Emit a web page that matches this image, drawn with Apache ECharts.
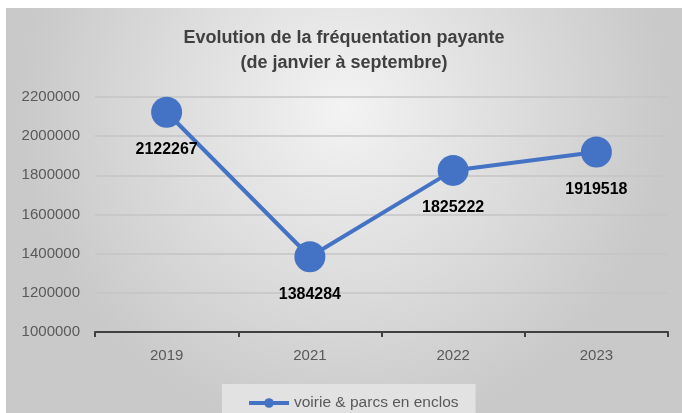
<!DOCTYPE html>
<html>
<head>
<meta charset="utf-8">
<script src="https://cdn.jsdelivr.net/npm/echarts@6/dist/echarts.min.js"></script>
<style>
  html, body { margin: 0; padding: 0; background: #fff; }
  #chart { position: absolute; left: 6px; top: 8px; width: 676px; height: 405px; }
</style>
</head>
<body>
<div id="chart"></div>
<script>
// données
const annees = ['2019', '2021', '2022', '2023']
const frequentation = [2122267, 1384284, 1825222, 1919518]
const nomSerie = 'voirie & parcs en enclos'

const chart = echarts.init(document.getElementById('chart'))

chart.setOption({
  backgroundColor: new echarts.graphic.RadialGradient(0.5, 0.25, 0.8, [
    { offset: 0, color: '#f3f3f3' },
    { offset: 1, color: '#c9c9c9' }
  ]),
  textStyle: { fontFamily: 'Liberation Sans' },
  title: {
    text: 'Evolution de la fréquentation payante\n(de janvier à septembre)',
    left: 'center',
    top: 13,
    textStyle: {
      fontSize: 18,
      fontWeight: 'bold',
      color: '#404040',
      lineHeight: 25
    }
  },
  legend: {
    data: [nomSerie],
    left: 216,
    top: 376,
    backgroundColor: '#e2e2e2',
    padding: [11, 17, 11, 25],
    itemWidth: 40,
    itemHeight: 12,
    lineStyle: { width: 4 },
    textStyle: { fontSize: 15.5, color: '#595959' }
  },
  grid: {
    left: 89,
    right: 14,
    top: 89,
    bottom: 81
  },
  xAxis: {
    type: 'category',
    data: annees,
    boundaryGap: true,
    axisLine: { lineStyle: { color: '#404040', width: 2 } },
    axisTick: { show: true, length: 5, lineStyle: { color: '#404040', width: 2 } },
    axisLabel: { fontSize: 15, color: '#595959', margin: 16 }
  },
  yAxis: {
    type: 'value',
    min: 1000000,
    max: 2200000,
    interval: 200000,
    axisLine: { show: false },
    axisTick: { show: false },
    axisLabel: { fontSize: 15, color: '#595959', margin: 15, formatter: v => String(v) },
    splitLine: { lineStyle: { color: '#c4c4c4', width: 1.5 } }
  },
  series: [
    {
      name: nomSerie,
      type: 'line',
      data: frequentation,
      symbol: 'circle',
      symbolSize: 31,
      itemStyle: { color: '#4472c4' },
      lineStyle: { color: '#4472c4', width: 4 },
      label: {
        show: true,
        position: 'bottom',
        distance: 14,
        fontSize: 16,
        fontWeight: 'bold',
        color: '#000'
      }
    }
  ]
})
</script>
</body>
</html>
